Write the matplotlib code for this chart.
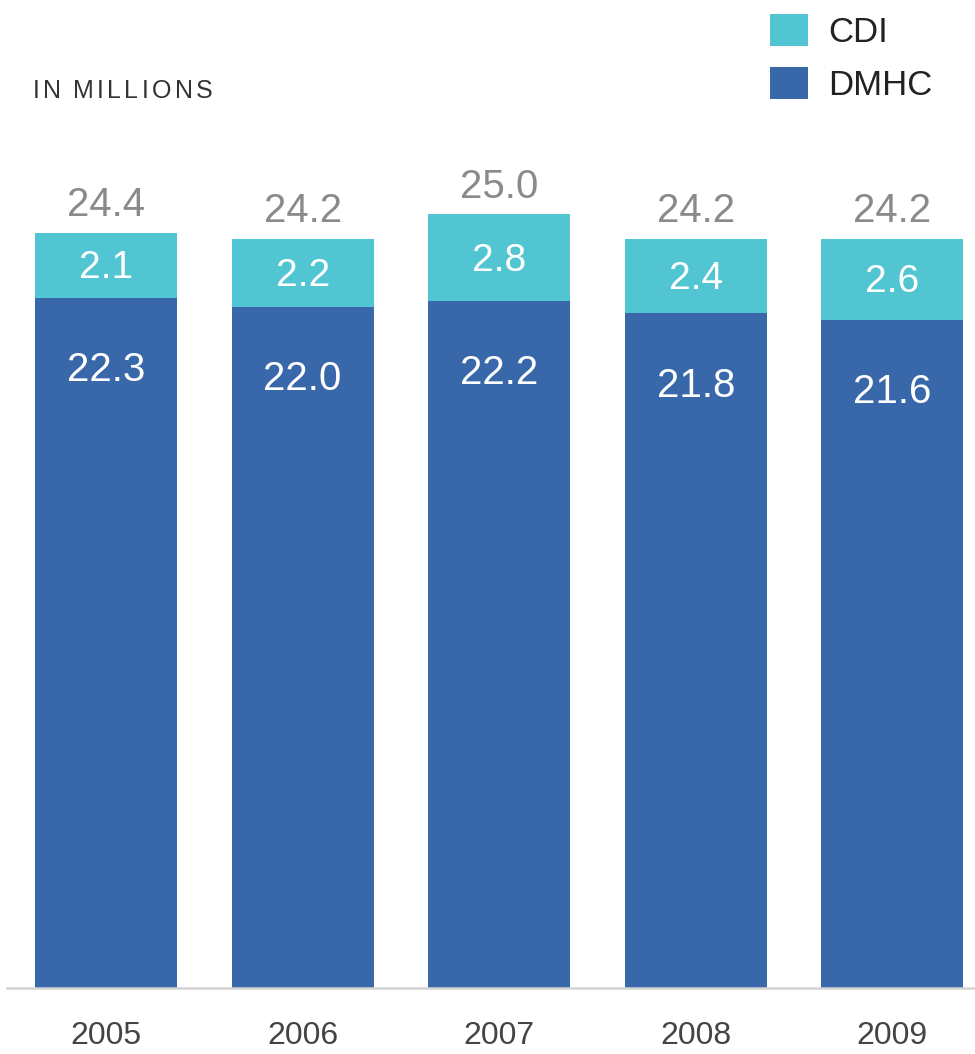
import matplotlib
matplotlib.use("Agg")
import matplotlib.pyplot as plt
import numpy as np

plt.rcParams["font.family"] = ["Liberation Sans", "DejaVu Sans"]

years = ["2005", "2006", "2007", "2008", "2009"]
dmhc = [22.3, 22.0, 22.2, 21.8, 21.6]
cdi = [2.1, 2.2, 2.8, 2.4, 2.6]
totals = ["24.4", "24.2", "25.0", "24.2", "24.2"]

CDI_COLOR = "#52C5D3"
DMHC_COLOR = "#3867AA"

fig = plt.figure(figsize=(9.75, 10.54), dpi=100)
ax = fig.add_axes([7 / 975, 66 / 1054, 968 / 975, 988 / 1054])

x = np.arange(len(years))
width = 0.722
b_dmhc = ax.bar(x, dmhc, width, color=DMHC_COLOR, label="DMHC", zorder=2)
b_cdi = ax.bar(x, cdi, width, bottom=dmhc, color=CDI_COLOR, label="CDI", zorder=2)

for i in range(len(years)):
    top = dmhc[i] + cdi[i]
    # total above bar
    ax.annotate(totals[i], (x[i], top), xytext=(0, 20), textcoords="offset points",
                ha="center", va="center", fontsize=29, color="#8a8a8a")
    # CDI segment value
    ax.annotate(f"{cdi[i]:.1f}", (x[i], dmhc[i] + cdi[i] / 2), xytext=(0, -2),
                textcoords="offset points", ha="center", va="center",
                fontsize=28, color="white")
    # DMHC value near top of segment
    ax.annotate(f"{dmhc[i]:.1f}", (x[i], dmhc[i]), xytext=(0, -52),
                textcoords="offset points", ha="center", va="center",
                fontsize=29, color="white")

ax.set_xlim(-0.504, 4.42)
ax.set_ylim(0, 31.93)
ax.set_xticks(x)
ax.set_xticklabels(years, fontsize=23, color="#444444")
ax.tick_params(axis="x", length=0, pad=24)
ax.set_yticks([])
for s in ["top", "right", "left"]:
    ax.spines[s].set_visible(False)
ax.spines["bottom"].set_color("#d4d4d4")
ax.spines["bottom"].set_linewidth(1.8)

# letter-spaced caption, one character at a time
renderer = fig.canvas.get_renderer()
cx = 33.0
for ch in "IN MILLIONS":
    t = fig.text(cx / 975, 1 - 91 / 1054, ch, fontsize=18, color="#333333",
                 ha="left", va="center")
    cx += t.get_window_extent(renderer).width + 3.3 if ch != " " else 8.5

fig.legend([b_cdi, b_dmhc], ["CDI", "DMHC"], loc="upper left",
           bbox_to_anchor=(770 / 975, 1 - 14 / 1054), frameon=False,
           fontsize=25, labelcolor="#222222", handlelength=1.1, handleheight=1.04,
           handletextpad=0.58, labelspacing=0.52, borderpad=0, borderaxespad=0)

fig.savefig("out.png", dpi=100)
